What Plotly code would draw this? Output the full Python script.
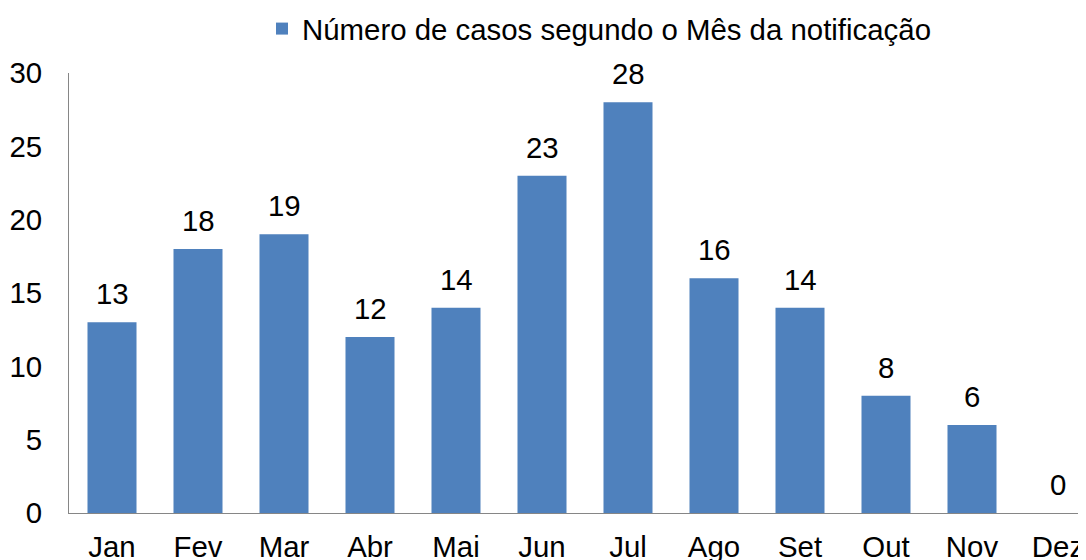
import plotly.graph_objects as go

months = ["Jan", "Fev", "Mar", "Abr", "Mai", "Jun", "Jul", "Ago", "Set", "Out", "Nov", "Dez"]
cases = [13, 18, 19, 12, 14, 23, 28, 16, 14, 8, 6, 0]
series_name = "Número de casos segundo o Mês da notificação"
y_ticks = [0, 5, 10, 15, 20, 25, 30]

FONT = "Liberation Sans, Arial, sans-serif"
BLUE = "#4F81BD"
FS = 29.4

fig = go.Figure()
fig.add_trace(go.Bar(
    x=months, y=cases, name=series_name,
    marker=dict(color=BLUE, line=dict(width=0)),
    showlegend=True,
))

annotations = [
    dict(x=m, y=v, text=str(v), showarrow=False, yanchor="bottom", yshift=10,
         font=dict(family=FONT, size=FS, color="#000000"), xref="x", yref="y")
    for m, v in zip(months, cases)
]

fig.update_layout(
    width=1078, height=552,
    margin=dict(l=61, r=0, t=65, b=47, autoexpand=False),
    paper_bgcolor="white", plot_bgcolor="white",
    font=dict(family=FONT, size=FS, color="#000000"),
    bargap=0.43,
    showlegend=True,
    legend=dict(orientation="h", xref="container", yref="container",
                x=0.2356, y=0.962, xanchor="left", yanchor="middle",
                font=dict(family=FONT, size=FS, color="#000000"),
                bgcolor="rgba(0,0,0,0)"),
    annotations=annotations,
    xaxis=dict(range=[-0.5, -0.5 + 1017 / 86], showline=True, linecolor="#868686", linewidth=1,
               showgrid=False, zeroline=False, ticks="", ticklabelstandoff=8, automargin=False,
               tickfont=dict(family=FONT, size=FS, color="#000000"), fixedrange=True),
    yaxis=dict(range=[0, 30], tickvals=y_ticks, showline=True, linecolor="#868686", linewidth=1,
               showgrid=False, zeroline=False, ticks="", ticklabelstandoff=20, automargin=False,
               tickfont=dict(family=FONT, size=FS, color="#000000"), fixedrange=True),
)

fig.write_html("out.html")
